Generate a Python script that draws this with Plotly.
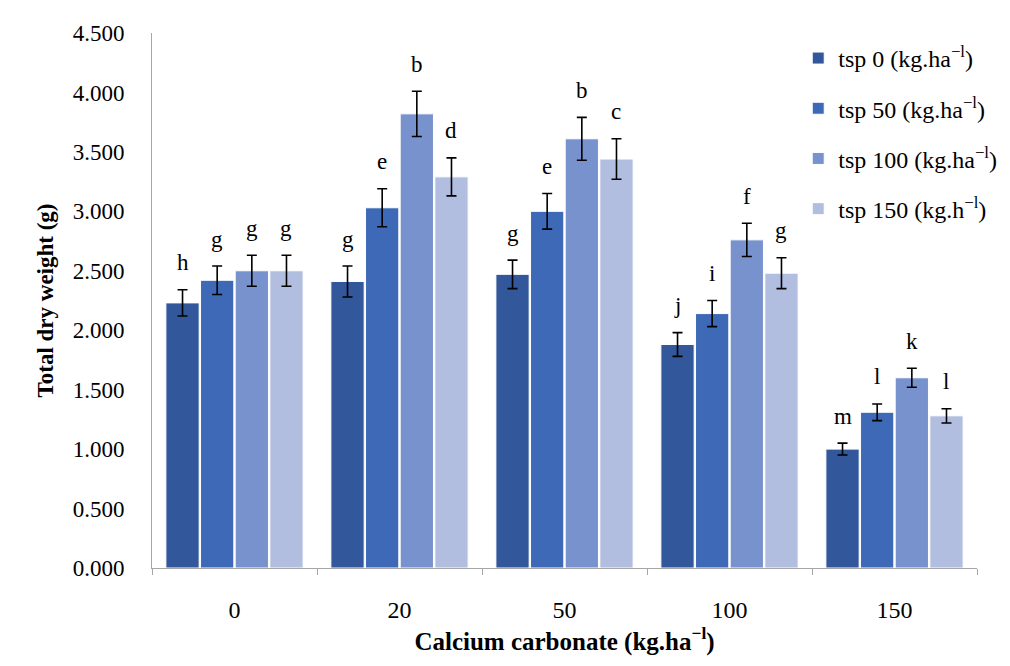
import plotly.graph_objects as go

categories = ["0", "20", "50", "100", "150"]
series_names = ["tsp 0 (kg.ha<sup>−l</sup>)", "tsp 50 (kg.ha<sup>−l</sup>)",
                "tsp 100 (kg.ha<sup>−l</sup>)", "tsp 150 (kg.h<sup>−l</sup>)"]
tsp0 = [2.23, 2.41, 2.47, 1.88, 1.00]
tsp50 = [2.42, 3.03, 3.00, 2.14, 1.31]
tsp100 = [2.50, 3.82, 3.61, 2.76, 1.60]
tsp150 = [2.50, 3.29, 3.44, 2.48, 1.28]
err0 = [0.11, 0.13, 0.12, 0.10, 0.05]
err50 = [0.12, 0.16, 0.15, 0.11, 0.07]
err100 = [0.13, 0.19, 0.18, 0.14, 0.08]
err150 = [0.13, 0.16, 0.17, 0.13, 0.06]
letters0 = ["h", "g", "g", "j", "m"]
letters50 = ["g", "e", "e", "i", "l"]
letters100 = ["g", "b", "b", "f", "k"]
letters150 = ["g", "d", "c", "g", "l"]

colors = ["#32579a", "#3e69b6", "#7892ce", "#b2bee0"]
values = [tsp0, tsp50, tsp100, tsp150]
errors = [err0, err50, err100, err150]
letters = [letters0, letters50, letters100, letters150]

FONT = "Liberation Serif"

fig = go.Figure()
for i in range(4):
    fig.add_trace(go.Bar(
        x=categories, y=values[i], name=series_names[i],
        legendgroup=f"g{i}",
        marker=dict(color=colors[i], line=dict(color="white", width=1)),
        error_y=dict(type="data", array=errors[i], visible=True,
                     color="black", thickness=1.6, width=5),
        offsetgroup=str(i),
    ))

ncat = len(categories)
bargap = 0.16
slot = (1 - bargap) / 4
for i in range(4):
    for j in range(ncat):
        xpos = j - (1 - bargap) / 2 + slot * (i + 0.5)
        fig.add_annotation(
            x=xpos, y=values[i][j] + errors[i][j], xref="x", yref="y",
            text=letters[i][j], showarrow=False, yshift=27,
            font=dict(family=FONT, size=23, color="black"),
        )

# page body has an 8px margin on every side; size the figure so nothing scrolls
fig.update_layout(
    width=994, height=650,
    margin=dict(l=144, r=25, t=25, b=90, autoexpand=False),
    paper_bgcolor="white", plot_bgcolor="white",
    barmode="group", bargap=bargap, bargroupgap=0.04,
    font=dict(family=FONT, size=23, color="black"),
    legend=dict(xref="container", yref="container",
                x=0.795, y=0.957, xanchor="left", yanchor="top",
                font=dict(family=FONT, size=24, color="black"),
                tracegroupgap=16, bgcolor="rgba(0,0,0,0)"),
    xaxis=dict(
        type="category", showline=True, linecolor="#a6a6a6", linewidth=1,
        ticks="outside", tickson="boundaries", ticklen=6, tickcolor="#a6a6a6",
        tickfont=dict(family=FONT, size=24), ticklabelstandoff=20,
        automargin=False,
        title=dict(text="<b>Calcium carbonate (kg.ha<sup>−l</sup>)</b>",
                   font=dict(family=FONT, size=25), standoff=10),
        range=[-0.5, 4.5],
    ),
    yaxis=dict(
        range=[0, 4.5], dtick=0.5, tickformat=".3f",
        showline=True, linecolor="#a6a6a6", linewidth=1, showgrid=False,
        zeroline=False, ticks="", ticklabelstandoff=22, automargin=False,
        tickfont=dict(family=FONT, size=23),
        title=dict(text="<b>Total dry weight (g)</b>",
                   font=dict(family=FONT, size=23), standoff=12),
    ),
)

fig.add_shape(type="line", xref="paper", yref="paper",
              x0=-0.1758, x1=-0.1758, y0=-0.3, y1=1.2,
              line=dict(color="#a0a0a0", width=2))
fig.add_shape(type="line", xref="paper", yref="paper",
              x0=-0.1758, x1=1.1, y0=1.0486, y1=1.0486,
              line=dict(color="#a0a0a0", width=2))

fig.write_html("out.html")
